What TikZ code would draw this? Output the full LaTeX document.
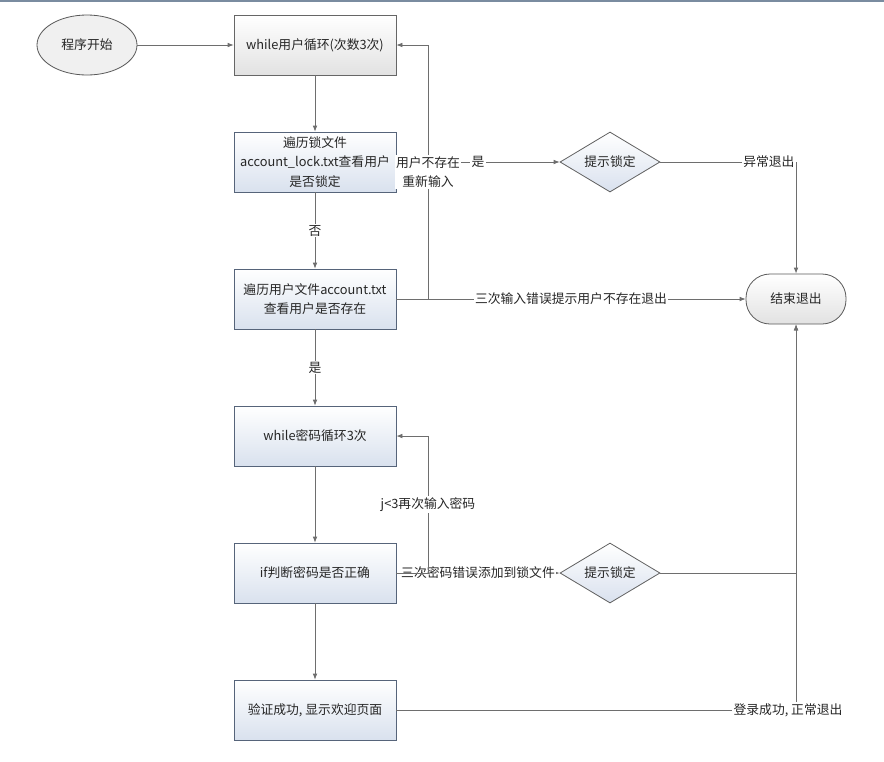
\documentclass[tikz,border=0pt]{standalone}
\usepackage{fontspec}
\setmainfont{Noto Sans CJK SC}
\usetikzlibrary{shapes.geometric,arrows.meta}
\definecolor{edgec}{HTML}{6E6E6E}
\definecolor{bordc}{HTML}{56647A}
\definecolor{txtc}{HTML}{262626}
\definecolor{blueb}{HTML}{D9E1EE}
\definecolor{grayb}{HTML}{E2E2E2}
\tikzset{
  every node/.style={font=\fontsize{9.6}{14.5}\selectfont, text=txtc},
  procbox/.style={draw=bordc, line width=0.6pt, minimum width=121.5pt, minimum height=45pt,
    top color=white, bottom color=blueb, align=center, inner sep=1pt},
  graybox/.style={procbox, bottom color=grayb, draw=gray!80!black},
  startell/.style={ellipse, draw=gray!70!black, line width=0.6pt, minimum width=75pt, minimum height=45pt,
    fill=gray!12, inner sep=0pt},
  endterm/.style={draw=gray!70!black, line width=0.6pt, rounded corners=18pt, minimum width=75pt,
    minimum height=37.5pt, top color=white, bottom color=grayb, inner sep=0pt},
  decide/.style={diamond, aspect=1.67, draw=gray!75!black, line width=0.6pt, minimum width=75pt,
    minimum height=45pt, top color=white, bottom color=blueb, inner sep=0pt},
  conn/.style={draw=edgec, line width=0.6pt},
  arr/.style={conn, -{Latex[length=4.5pt,width=3.5pt]}},
  lbl/.style={fill=white, inner sep=1pt, align=center},
}
\begin{document}
\begin{tikzpicture}[x=0.75pt,y=-0.75pt]
\useasboundingbox (0,0) rectangle (884,761);
\fill[white] (0,0) rectangle (884,761);
\draw[color={rgb,255:red,122;green,140;blue,160}, line width=1.5pt] (0,1) -- (884,1);

\node[startell] (start) at (87,45) {程序开始};
\node[graybox] (b1) at (315,45) {while用户循环(次数3次)};
\node[procbox] (b2) at (315,162) {遍历锁文件\\account\_lock.txt查看用户\\是否锁定};
\node[procbox] (b3) at (315,299) {遍历用户文件account.txt\\查看用户是否存在};
\node[procbox] (b4) at (315,436) {while密码循环3次};
\node[procbox] (b5) at (315,573) {if判断密码是否正确};
\node[procbox] (b6) at (315,710) {验证成功, 显示欢迎页面};
\node[decide] (d1) at (610,162) {提示锁定};
\node[decide] (d2) at (610,573) {提示锁定};
\node[endterm] (end) at (796,299) {结束退出};

\coordinate (c1) at (428,299);
\coordinate (c2) at (428,45);
\coordinate (c3) at (428,573);
\coordinate (c4) at (428,436);

\draw[arr] (start) -- (b1);
\draw[arr] (b1) -- (b2);
\draw[arr] (b2) -- node[lbl] {否} (b3);
\draw[arr] (b3) -- node[lbl] {是} (b4);
\draw[arr] (b4) -- (b5);
\draw[arr] (b5) -- (b6);

\draw[arr] (b2) -- node[lbl] {是} (d1);
\draw[arr] (b3.east) -- node[lbl, pos=0.5] {三次输入错误提示用户不存在退出} (end.west);
\draw[arr] (b3.east) -- (c1) -- node[lbl, pos=0.5] {用户不存在\\重新输入} (c2) -- (b1.east);
\draw[arr] (d1.east) -| node[lbl, pos=0.4] {异常退出} (end.north);

\draw[arr] (b5) -- node[lbl] {三次密码错误添加到锁文件} (d2);
\draw[arr] (b5.east) -- (c3) -- node[lbl, pos=0.5] {j<3再次输入密码} (c4) -- (b4.east);
\draw[arr] (d2.east) -| (end.south);
\draw[arr] (b6.east) -| node[lbl, pos=0.49] {登录成功, 正常退出} (end.south);
\end{tikzpicture}
\end{document}
